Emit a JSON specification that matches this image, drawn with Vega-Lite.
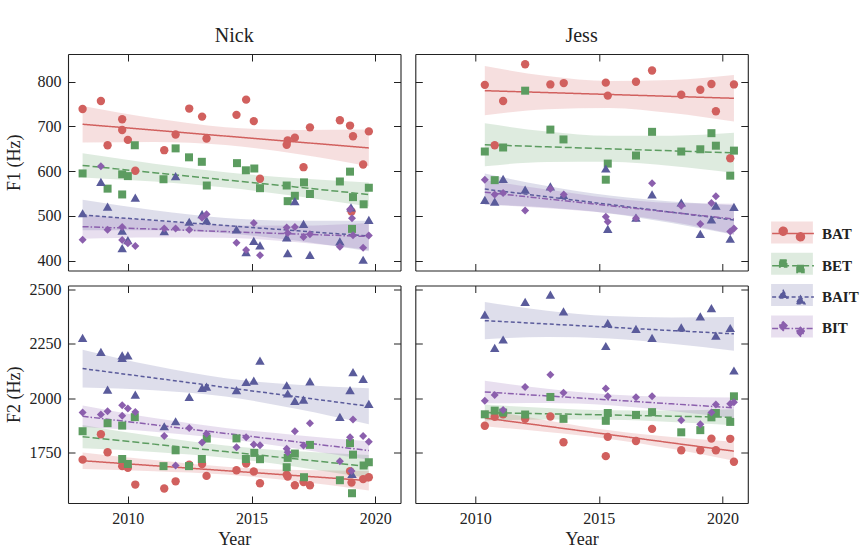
{
  "$schema": "https://vega.github.io/schema/vega-lite/v6.json",
  "padding": {"left": 5, "top": 25, "right": 5, "bottom": 5},
  "background": "white",
  "datasets": {
    "nf1": [
      {"vowel":"BAT","year":2008.17,"hz":739},{"vowel":"BAT","year":2008.91,"hz":757},{"vowel":"BAT","year":2009.18,"hz":658},{"vowel":"BAT","year":2009.77,"hz":716},{"vowel":"BAT","year":2009.77,"hz":692},{"vowel":"BAT","year":2010.0,"hz":670},{"vowel":"BAT","year":2010.3,"hz":601},{"vowel":"BAT","year":2011.47,"hz":647},{"vowel":"BAT","year":2011.93,"hz":682},{"vowel":"BAT","year":2012.48,"hz":740},{"vowel":"BAT","year":2013.0,"hz":722},{"vowel":"BAT","year":2013.18,"hz":673},{"vowel":"BAT","year":2014.39,"hz":726},{"vowel":"BAT","year":2014.78,"hz":760},{"vowel":"BAT","year":2015.09,"hz":712},{"vowel":"BAT","year":2015.34,"hz":583},{"vowel":"BAT","year":2016.42,"hz":659},{"vowel":"BAT","year":2016.46,"hz":669},{"vowel":"BAT","year":2016.75,"hz":675},{"vowel":"BAT","year":2017.1,"hz":609},{"vowel":"BAT","year":2017.36,"hz":698},{"vowel":"BAT","year":2018.57,"hz":714},{"vowel":"BAT","year":2018.98,"hz":702},{"vowel":"BAT","year":2019.04,"hz":510},{"vowel":"BAT","year":2019.1,"hz":678},{"vowel":"BAT","year":2019.51,"hz":615},{"vowel":"BAT","year":2019.74,"hz":689},
      {"vowel":"BET","year":2008.17,"hz":595},{"vowel":"BET","year":2009.18,"hz":561},{"vowel":"BET","year":2009.77,"hz":593},{"vowel":"BET","year":2009.77,"hz":548},{"vowel":"BET","year":2010.0,"hz":589},{"vowel":"BET","year":2010.28,"hz":658},{"vowel":"BET","year":2011.44,"hz":582},{"vowel":"BET","year":2011.93,"hz":651},{"vowel":"BET","year":2012.47,"hz":631},{"vowel":"BET","year":2012.99,"hz":621},{"vowel":"BET","year":2013.19,"hz":568},{"vowel":"BET","year":2014.41,"hz":618},{"vowel":"BET","year":2014.77,"hz":602},{"vowel":"BET","year":2015.11,"hz":606},{"vowel":"BET","year":2015.34,"hz":562},{"vowel":"BET","year":2016.42,"hz":568},{"vowel":"BET","year":2016.46,"hz":533},{"vowel":"BET","year":2016.75,"hz":545},{"vowel":"BET","year":2017.12,"hz":575},{"vowel":"BET","year":2017.36,"hz":549},{"vowel":"BET","year":2018.57,"hz":577},{"vowel":"BET","year":2018.98,"hz":599},{"vowel":"BET","year":2019.06,"hz":471},{"vowel":"BET","year":2019.1,"hz":542},{"vowel":"BET","year":2019.53,"hz":526},{"vowel":"BET","year":2019.74,"hz":563},
      {"vowel":"BAIT","year":2008.17,"hz":506},{"vowel":"BAIT","year":2008.91,"hz":576},{"vowel":"BAIT","year":2009.18,"hz":521},{"vowel":"BAIT","year":2009.77,"hz":467},{"vowel":"BAIT","year":2009.77,"hz":428},{"vowel":"BAIT","year":2010.0,"hz":446},{"vowel":"BAIT","year":2010.3,"hz":541},{"vowel":"BAIT","year":2011.47,"hz":466},{"vowel":"BAIT","year":2011.93,"hz":589},{"vowel":"BAIT","year":2012.48,"hz":487},{"vowel":"BAIT","year":2013.0,"hz":504},{"vowel":"BAIT","year":2013.18,"hz":490},{"vowel":"BAIT","year":2014.39,"hz":470},{"vowel":"BAIT","year":2014.78,"hz":419},{"vowel":"BAIT","year":2015.09,"hz":444},{"vowel":"BAIT","year":2015.34,"hz":434},{"vowel":"BAIT","year":2016.42,"hz":452},{"vowel":"BAIT","year":2016.46,"hz":417},{"vowel":"BAIT","year":2016.75,"hz":533},{"vowel":"BAIT","year":2017.1,"hz":482},{"vowel":"BAIT","year":2017.36,"hz":413},{"vowel":"BAIT","year":2018.57,"hz":443},{"vowel":"BAIT","year":2019.02,"hz":519},{"vowel":"BAIT","year":2019.51,"hz":402},{"vowel":"BAIT","year":2019.74,"hz":491},
      {"vowel":"BIT","year":2008.17,"hz":447},{"vowel":"BIT","year":2008.91,"hz":611},{"vowel":"BIT","year":2009.18,"hz":469},{"vowel":"BIT","year":2009.77,"hz":475},{"vowel":"BIT","year":2009.77,"hz":446},{"vowel":"BIT","year":2010.0,"hz":439},{"vowel":"BIT","year":2010.3,"hz":433},{"vowel":"BIT","year":2011.47,"hz":472},{"vowel":"BIT","year":2011.93,"hz":472},{"vowel":"BIT","year":2012.48,"hz":469},{"vowel":"BIT","year":2013.0,"hz":496},{"vowel":"BIT","year":2013.18,"hz":504},{"vowel":"BIT","year":2014.39,"hz":440},{"vowel":"BIT","year":2014.78,"hz":424},{"vowel":"BIT","year":2015.09,"hz":484},{"vowel":"BIT","year":2015.34,"hz":412},{"vowel":"BIT","year":2016.42,"hz":474},{"vowel":"BIT","year":2016.46,"hz":462},{"vowel":"BIT","year":2016.75,"hz":475},{"vowel":"BIT","year":2017.1,"hz":453},{"vowel":"BIT","year":2017.36,"hz":459},{"vowel":"BIT","year":2018.57,"hz":431},{"vowel":"BIT","year":2018.98,"hz":515},{"vowel":"BIT","year":2019.06,"hz":495},{"vowel":"BIT","year":2019.1,"hz":457},{"vowel":"BIT","year":2019.51,"hz":429},{"vowel":"BIT","year":2019.74,"hz":456}
    ],
    "jf1": [
      {"vowel":"BAT","year":2010.39,"hz":793},{"vowel":"BAT","year":2010.79,"hz":658},{"vowel":"BAT","year":2011.13,"hz":757},{"vowel":"BAT","year":2012.02,"hz":839},{"vowel":"BAT","year":2013.04,"hz":794},{"vowel":"BAT","year":2013.58,"hz":797},{"vowel":"BAT","year":2015.28,"hz":798},{"vowel":"BAT","year":2015.36,"hz":769},{"vowel":"BAT","year":2016.5,"hz":800},{"vowel":"BAT","year":2017.15,"hz":825},{"vowel":"BAT","year":2018.33,"hz":771},{"vowel":"BAT","year":2019.1,"hz":782},{"vowel":"BAT","year":2019.55,"hz":795},{"vowel":"BAT","year":2019.73,"hz":734},{"vowel":"BAT","year":2020.31,"hz":629},{"vowel":"BAT","year":2020.46,"hz":794},
      {"vowel":"BET","year":2010.39,"hz":644},{"vowel":"BET","year":2010.79,"hz":580},{"vowel":"BET","year":2011.13,"hz":653},{"vowel":"BET","year":2012.02,"hz":780},{"vowel":"BET","year":2013.04,"hz":693},{"vowel":"BET","year":2013.57,"hz":671},{"vowel":"BET","year":2015.28,"hz":581},{"vowel":"BET","year":2015.36,"hz":617},{"vowel":"BET","year":2016.5,"hz":635},{"vowel":"BET","year":2017.15,"hz":688},{"vowel":"BET","year":2018.33,"hz":644},{"vowel":"BET","year":2019.1,"hz":649},{"vowel":"BET","year":2019.55,"hz":685},{"vowel":"BET","year":2019.73,"hz":657},{"vowel":"BET","year":2020.31,"hz":590},{"vowel":"BET","year":2020.46,"hz":646},
      {"vowel":"BAIT","year":2010.39,"hz":536},{"vowel":"BAIT","year":2010.79,"hz":532},{"vowel":"BAIT","year":2011.13,"hz":583},{"vowel":"BAIT","year":2012.02,"hz":559},{"vowel":"BAIT","year":2013.04,"hz":566},{"vowel":"BAIT","year":2013.57,"hz":547},{"vowel":"BAIT","year":2015.28,"hz":606},{"vowel":"BAIT","year":2015.36,"hz":471},{"vowel":"BAIT","year":2016.5,"hz":496},{"vowel":"BAIT","year":2017.15,"hz":548},{"vowel":"BAIT","year":2018.33,"hz":530},{"vowel":"BAIT","year":2019.1,"hz":460},{"vowel":"BAIT","year":2019.55,"hz":492},{"vowel":"BAIT","year":2019.73,"hz":523},{"vowel":"BAIT","year":2020.31,"hz":449},{"vowel":"BAIT","year":2020.46,"hz":520},
      {"vowel":"BIT","year":2010.39,"hz":581},{"vowel":"BIT","year":2010.79,"hz":548},{"vowel":"BIT","year":2011.13,"hz":551},{"vowel":"BIT","year":2012.02,"hz":512},{"vowel":"BIT","year":2013.04,"hz":561},{"vowel":"BIT","year":2013.58,"hz":548},{"vowel":"BIT","year":2015.28,"hz":498},{"vowel":"BIT","year":2015.36,"hz":487},{"vowel":"BIT","year":2016.5,"hz":495},{"vowel":"BIT","year":2017.15,"hz":573},{"vowel":"BIT","year":2018.33,"hz":523},{"vowel":"BIT","year":2019.1,"hz":482},{"vowel":"BIT","year":2019.55,"hz":529},{"vowel":"BIT","year":2019.73,"hz":544},{"vowel":"BIT","year":2020.31,"hz":465},{"vowel":"BIT","year":2020.46,"hz":472}
    ],
    "nf2": [
      {"vowel":"BAT","year":2008.17,"hz":1716},{"vowel":"BAT","year":2008.91,"hz":1833},{"vowel":"BAT","year":2009.18,"hz":1750},{"vowel":"BAT","year":2009.77,"hz":1686},{"vowel":"BAT","year":2010.0,"hz":1678},{"vowel":"BAT","year":2010.3,"hz":1601},{"vowel":"BAT","year":2011.47,"hz":1583},{"vowel":"BAT","year":2011.93,"hz":1616},{"vowel":"BAT","year":2012.48,"hz":1693},{"vowel":"BAT","year":2013.0,"hz":1696},{"vowel":"BAT","year":2013.18,"hz":1641},{"vowel":"BAT","year":2014.39,"hz":1667},{"vowel":"BAT","year":2014.78,"hz":1698},{"vowel":"BAT","year":2015.09,"hz":1661},{"vowel":"BAT","year":2015.34,"hz":1607},{"vowel":"BAT","year":2016.42,"hz":1647},{"vowel":"BAT","year":2016.46,"hz":1638},{"vowel":"BAT","year":2016.75,"hz":1598},{"vowel":"BAT","year":2017.1,"hz":1613},{"vowel":"BAT","year":2017.36,"hz":1598},{"vowel":"BAT","year":2018.98,"hz":1663},{"vowel":"BAT","year":2019.04,"hz":1610},{"vowel":"BAT","year":2019.51,"hz":1626},{"vowel":"BAT","year":2019.74,"hz":1635},
      {"vowel":"BET","year":2008.17,"hz":1847},{"vowel":"BET","year":2009.18,"hz":1884},{"vowel":"BET","year":2009.77,"hz":1873},{"vowel":"BET","year":2009.77,"hz":1719},{"vowel":"BET","year":2010.0,"hz":1696},{"vowel":"BET","year":2010.28,"hz":1912},{"vowel":"BET","year":2011.44,"hz":1686},{"vowel":"BET","year":2011.93,"hz":1759},{"vowel":"BET","year":2012.47,"hz":1686},{"vowel":"BET","year":2012.99,"hz":1719},{"vowel":"BET","year":2013.19,"hz":1813},{"vowel":"BET","year":2014.39,"hz":1814},{"vowel":"BET","year":2014.77,"hz":1719},{"vowel":"BET","year":2015.11,"hz":1747},{"vowel":"BET","year":2015.34,"hz":1718},{"vowel":"BET","year":2016.42,"hz":1681},{"vowel":"BET","year":2016.46,"hz":1724},{"vowel":"BET","year":2016.75,"hz":1744},{"vowel":"BET","year":2017.12,"hz":1635},{"vowel":"BET","year":2017.36,"hz":1784},{"vowel":"BET","year":2018.57,"hz":1621},{"vowel":"BET","year":2018.98,"hz":1792},{"vowel":"BET","year":2019.06,"hz":1561},{"vowel":"BET","year":2019.1,"hz":1739},{"vowel":"BET","year":2019.53,"hz":1689},{"vowel":"BET","year":2019.74,"hz":1704},
      {"vowel":"BAIT","year":2008.17,"hz":2277},{"vowel":"BAIT","year":2008.91,"hz":2213},{"vowel":"BAIT","year":2009.18,"hz":2039},{"vowel":"BAIT","year":2009.77,"hz":2197},{"vowel":"BAIT","year":2009.77,"hz":2185},{"vowel":"BAIT","year":2010.0,"hz":2197},{"vowel":"BAIT","year":2010.3,"hz":2016},{"vowel":"BAIT","year":2011.47,"hz":1870},{"vowel":"BAIT","year":2011.93,"hz":1893},{"vowel":"BAIT","year":2012.48,"hz":2005},{"vowel":"BAIT","year":2013.0,"hz":2047},{"vowel":"BAIT","year":2013.18,"hz":2053},{"vowel":"BAIT","year":2014.39,"hz":2037},{"vowel":"BAIT","year":2014.78,"hz":2074},{"vowel":"BAIT","year":2015.09,"hz":2080},{"vowel":"BAIT","year":2015.34,"hz":2173},{"vowel":"BAIT","year":2016.42,"hz":2059},{"vowel":"BAIT","year":2016.46,"hz":2021},{"vowel":"BAIT","year":2016.75,"hz":1987},{"vowel":"BAIT","year":2017.1,"hz":1993},{"vowel":"BAIT","year":2017.36,"hz":2077},{"vowel":"BAIT","year":2018.57,"hz":1913},{"vowel":"BAIT","year":2018.98,"hz":2037},{"vowel":"BAIT","year":2019.06,"hz":1650},{"vowel":"BAIT","year":2019.1,"hz":2120},{"vowel":"BAIT","year":2019.51,"hz":2088},{"vowel":"BAIT","year":2019.74,"hz":1973},
      {"vowel":"BIT","year":2008.17,"hz":1933},{"vowel":"BIT","year":2008.91,"hz":1924},{"vowel":"BIT","year":2009.18,"hz":1939},{"vowel":"BIT","year":2009.77,"hz":1967},{"vowel":"BIT","year":2009.77,"hz":1918},{"vowel":"BIT","year":2010.0,"hz":1952},{"vowel":"BIT","year":2010.3,"hz":1936},{"vowel":"BIT","year":2011.47,"hz":1825},{"vowel":"BIT","year":2011.93,"hz":1689},{"vowel":"BIT","year":2012.48,"hz":1862},{"vowel":"BIT","year":2013.0,"hz":1795},{"vowel":"BIT","year":2013.18,"hz":1835},{"vowel":"BIT","year":2014.39,"hz":1773},{"vowel":"BIT","year":2014.78,"hz":1819},{"vowel":"BIT","year":2015.09,"hz":1786},{"vowel":"BIT","year":2015.34,"hz":1782},{"vowel":"BIT","year":2016.42,"hz":1766},{"vowel":"BIT","year":2016.46,"hz":1750},{"vowel":"BIT","year":2016.75,"hz":1847},{"vowel":"BIT","year":2017.1,"hz":1781},{"vowel":"BIT","year":2017.36,"hz":1884},{"vowel":"BIT","year":2018.57,"hz":1709},{"vowel":"BIT","year":2018.98,"hz":1819},{"vowel":"BIT","year":2019.04,"hz":1663},{"vowel":"BIT","year":2019.1,"hz":1901},{"vowel":"BIT","year":2019.51,"hz":1825},{"vowel":"BIT","year":2019.74,"hz":1798}
    ],
    "jf2": [
      {"vowel":"BAT","year":2010.39,"hz":1872},{"vowel":"BAT","year":2010.79,"hz":1913},{"vowel":"BAT","year":2011.13,"hz":1925},{"vowel":"BAT","year":2012.02,"hz":1904},{"vowel":"BAT","year":2013.04,"hz":1915},{"vowel":"BAT","year":2013.57,"hz":1796},{"vowel":"BAT","year":2015.28,"hz":1732},{"vowel":"BAT","year":2015.36,"hz":1821},{"vowel":"BAT","year":2016.5,"hz":1802},{"vowel":"BAT","year":2017.15,"hz":1858},{"vowel":"BAT","year":2018.33,"hz":1759},{"vowel":"BAT","year":2019.1,"hz":1759},{"vowel":"BAT","year":2019.55,"hz":1813},{"vowel":"BAT","year":2019.73,"hz":1759},{"vowel":"BAT","year":2020.31,"hz":1812},{"vowel":"BAT","year":2020.46,"hz":1706},
      {"vowel":"BET","year":2010.39,"hz":1925},{"vowel":"BET","year":2010.79,"hz":1942},{"vowel":"BET","year":2011.13,"hz":1933},{"vowel":"BET","year":2012.02,"hz":1924},{"vowel":"BET","year":2013.04,"hz":2005},{"vowel":"BET","year":2013.57,"hz":1904},{"vowel":"BET","year":2015.28,"hz":1895},{"vowel":"BET","year":2015.36,"hz":1931},{"vowel":"BET","year":2016.5,"hz":1922},{"vowel":"BET","year":2017.15,"hz":1935},{"vowel":"BET","year":2018.33,"hz":1842},{"vowel":"BET","year":2019.1,"hz":1852},{"vowel":"BET","year":2019.55,"hz":1911},{"vowel":"BET","year":2019.73,"hz":1931},{"vowel":"BET","year":2020.31,"hz":1890},{"vowel":"BET","year":2020.46,"hz":2008},
      {"vowel":"BAIT","year":2010.39,"hz":2385},{"vowel":"BAIT","year":2010.79,"hz":2231},{"vowel":"BAIT","year":2011.13,"hz":2270},{"vowel":"BAIT","year":2012.02,"hz":2443},{"vowel":"BAIT","year":2013.04,"hz":2477},{"vowel":"BAIT","year":2013.57,"hz":2400},{"vowel":"BAIT","year":2015.28,"hz":2240},{"vowel":"BAIT","year":2015.36,"hz":2345},{"vowel":"BAIT","year":2016.5,"hz":2319},{"vowel":"BAIT","year":2017.15,"hz":2277},{"vowel":"BAIT","year":2018.33,"hz":2326},{"vowel":"BAIT","year":2019.1,"hz":2377},{"vowel":"BAIT","year":2019.55,"hz":2415},{"vowel":"BAIT","year":2019.73,"hz":2288},{"vowel":"BAIT","year":2020.31,"hz":2323},{"vowel":"BAIT","year":2020.46,"hz":2127},
      {"vowel":"BIT","year":2010.39,"hz":1987},{"vowel":"BIT","year":2010.79,"hz":2014},{"vowel":"BIT","year":2011.13,"hz":1945},{"vowel":"BIT","year":2012.02,"hz":2051},{"vowel":"BIT","year":2013.04,"hz":2108},{"vowel":"BIT","year":2013.57,"hz":2024},{"vowel":"BIT","year":2015.28,"hz":2044},{"vowel":"BIT","year":2015.36,"hz":2008},{"vowel":"BIT","year":2016.5,"hz":2004},{"vowel":"BIT","year":2017.15,"hz":2008},{"vowel":"BIT","year":2018.33,"hz":1898},{"vowel":"BIT","year":2019.1,"hz":1879},{"vowel":"BIT","year":2019.55,"hz":1933},{"vowel":"BIT","year":2019.73,"hz":1970},{"vowel":"BIT","year":2020.31,"hz":1974},{"vowel":"BIT","year":2020.46,"hz":1981}
    ],
    "nf1fit": [
      {"vowel":"BAT","year":2008.17,"fit":705,"lo":664,"hi":746},{"vowel":"BAT","year":2011.06,"fit":691.75,"lo":665,"hi":718.5},{"vowel":"BAT","year":2013.95,"fit":678.5,"lo":658.5,"hi":698.5},{"vowel":"BAT","year":2016.85,"fit":665.25,"lo":638.5,"hi":692},{"vowel":"BAT","year":2019.74,"fit":652,"lo":611,"hi":693},
      {"vowel":"BET","year":2008.17,"fit":613,"lo":586,"hi":640},{"vowel":"BET","year":2011.06,"fit":596.75,"lo":576.75,"hi":616.75},{"vowel":"BET","year":2013.95,"fit":580.5,"lo":563.5,"hi":597.5},{"vowel":"BET","year":2016.85,"fit":564.25,"lo":544.25,"hi":584.25},{"vowel":"BET","year":2019.74,"fit":548,"lo":521,"hi":575},
      {"vowel":"BAIT","year":2008.17,"fit":502,"lo":468,"hi":536},{"vowel":"BAIT","year":2011.06,"fit":490.25,"lo":467.75,"hi":512.75},{"vowel":"BAIT","year":2013.95,"fit":478.5,"lo":461.5,"hi":495.5},{"vowel":"BAIT","year":2016.85,"fit":466.75,"lo":444.25,"hi":489.25},{"vowel":"BAIT","year":2019.74,"fit":455,"lo":421,"hi":489},
      {"vowel":"BIT","year":2008.17,"fit":476,"lo":449,"hi":503},{"vowel":"BIT","year":2011.06,"fit":470.5,"lo":452,"hi":489},{"vowel":"BIT","year":2013.95,"fit":465,"lo":451,"hi":479},{"vowel":"BIT","year":2016.85,"fit":459.5,"lo":441,"hi":478},{"vowel":"BIT","year":2019.74,"fit":454,"lo":424,"hi":484}
    ],
    "jf1fit": [
      {"vowel":"BAT","year":2010.39,"fit":780,"lo":725,"hi":835},{"vowel":"BAT","year":2012.91,"fit":775.75,"lo":738.75,"hi":812.75},{"vowel":"BAT","year":2015.43,"fit":771.5,"lo":741.5,"hi":801.5},{"vowel":"BAT","year":2017.94,"fit":767.25,"lo":730,"hi":804},{"vowel":"BAT","year":2020.46,"fit":763,"lo":711,"hi":815},
      {"vowel":"BET","year":2010.39,"fit":659,"lo":611,"hi":707},{"vowel":"BET","year":2012.91,"fit":654.5,"lo":620.5,"hi":688.5},{"vowel":"BET","year":2015.43,"fit":650,"lo":621,"hi":679},{"vowel":"BET","year":2017.94,"fit":645.5,"lo":611.5,"hi":679.5},{"vowel":"BET","year":2020.46,"fit":641,"lo":596,"hi":686},
      {"vowel":"BAIT","year":2010.39,"fit":560,"lo":525,"hi":595},{"vowel":"BAIT","year":2012.91,"fit":542.75,"lo":518.75,"hi":566.75},{"vowel":"BAIT","year":2015.43,"fit":525.5,"lo":505.5,"hi":545.5},{"vowel":"BAIT","year":2017.94,"fit":508.25,"lo":484.25,"hi":532.25},{"vowel":"BAIT","year":2020.46,"fit":491,"lo":458,"hi":524},
      {"vowel":"BIT","year":2010.39,"fit":553,"lo":526,"hi":580},{"vowel":"BIT","year":2012.91,"fit":538,"lo":517,"hi":559},{"vowel":"BIT","year":2015.43,"fit":523,"lo":506,"hi":540},{"vowel":"BIT","year":2017.94,"fit":508,"lo":487,"hi":529},{"vowel":"BIT","year":2020.46,"fit":493,"lo":459,"hi":527}
    ],
    "nf2fit": [
      {"vowel":"BAT","year":2008.17,"fit":1711,"lo":1673,"hi":1749},{"vowel":"BAT","year":2011.06,"fit":1688,"lo":1662,"hi":1714},{"vowel":"BAT","year":2013.95,"fit":1665,"lo":1647,"hi":1683},{"vowel":"BAT","year":2016.85,"fit":1642,"lo":1616,"hi":1668},{"vowel":"BAT","year":2019.74,"fit":1619,"lo":1574,"hi":1664},
      {"vowel":"BET","year":2008.17,"fit":1822,"lo":1768,"hi":1876},{"vowel":"BET","year":2011.06,"fit":1787.5,"lo":1751.5,"hi":1823.5},{"vowel":"BET","year":2013.95,"fit":1753,"lo":1725,"hi":1781},{"vowel":"BET","year":2016.85,"fit":1718.5,"lo":1682.5,"hi":1754.5},{"vowel":"BET","year":2019.74,"fit":1684,"lo":1631,"hi":1737},
      {"vowel":"BAIT","year":2008.17,"fit":2136,"lo":2049,"hi":2223},{"vowel":"BAIT","year":2011.06,"fit":2092.5,"lo":2036.5,"hi":2148.5},{"vowel":"BAIT","year":2013.95,"fit":2049,"lo":2007,"hi":2091},{"vowel":"BAIT","year":2016.85,"fit":2005.5,"lo":1949.5,"hi":2061.5},{"vowel":"BAIT","year":2019.74,"fit":1962,"lo":1879,"hi":2045},
      {"vowel":"BIT","year":2008.17,"fit":1916,"lo":1866,"hi":1966},{"vowel":"BIT","year":2011.06,"fit":1876.5,"lo":1845,"hi":1908},{"vowel":"BIT","year":2013.95,"fit":1837,"lo":1812,"hi":1862},{"vowel":"BIT","year":2016.85,"fit":1797.5,"lo":1766,"hi":1829},{"vowel":"BIT","year":2019.74,"fit":1758,"lo":1715,"hi":1801}
    ],
    "jf2fit": [
      {"vowel":"BAT","year":2010.39,"fit":1908,"lo":1870,"hi":1946},{"vowel":"BAT","year":2012.91,"fit":1869.75,"lo":1843,"hi":1897},{"vowel":"BAT","year":2015.43,"fit":1831.5,"lo":1811.5,"hi":1851.5},{"vowel":"BAT","year":2017.94,"fit":1793.25,"lo":1766,"hi":1820},{"vowel":"BAT","year":2020.46,"fit":1755,"lo":1711,"hi":1799},
      {"vowel":"BET","year":2010.39,"fit":1933,"lo":1896,"hi":1970},{"vowel":"BET","year":2012.91,"fit":1927.5,"lo":1901,"hi":1954},{"vowel":"BET","year":2015.43,"fit":1922,"lo":1900,"hi":1944},{"vowel":"BET","year":2017.94,"fit":1916.5,"lo":1890,"hi":1943},{"vowel":"BET","year":2020.46,"fit":1911,"lo":1874,"hi":1948},
      {"vowel":"BAIT","year":2010.39,"fit":2357,"lo":2271,"hi":2443},{"vowel":"BAIT","year":2012.91,"fit":2341.75,"lo":2281,"hi":2403},{"vowel":"BAIT","year":2015.43,"fit":2326.5,"lo":2274.5,"hi":2378.5},{"vowel":"BAIT","year":2017.94,"fit":2311.25,"lo":2250,"hi":2372},{"vowel":"BAIT","year":2020.46,"fit":2296,"lo":2218,"hi":2374},
      {"vowel":"BIT","year":2010.39,"fit":2028,"lo":1976,"hi":2080},{"vowel":"BIT","year":2012.91,"fit":2009.75,"lo":1976.75,"hi":2042.75},{"vowel":"BIT","year":2015.43,"fit":1991.5,"lo":1966.5,"hi":2016.5},{"vowel":"BIT","year":2017.94,"fit":1973.25,"lo":1940,"hi":2006},{"vowel":"BIT","year":2020.46,"fit":1955,"lo":1907,"hi":2003}
    ]
  },
  "columns": 2,
  "spacing": {"row": 14.5, "column": 14.3},
  "bounds": "flush",
  "concat": [
    {
      "width": 332.5, "height": 216.5,
      "title": {"text": "Nick"},
      "resolve": {"axis": {"x": "independent", "y": "independent"}},
      "layer": [
        {"data": {"name": "nf1fit"}, "mark": {"type": "area", "interpolate": "monotone", "fillOpacity": 0.2},
         "encoding": {
           "x": {"field": "year", "type": "quantitative", "scale": {"domain": [2007.58, 2021.02], "nice": false, "zero": false}, "axis": {"orient": "bottom", "values": [2010, 2015, 2020], "labels": false, "title": null}},
           "y": {"field": "lo", "type": "quantitative", "scale": {"domain": [378, 862], "nice": false, "zero": false}, "axis": {"orient": "left", "values": [400, 500, 600, 700, 800], "title": "F1 (Hz)", "titleX": -53.5, "titleBaseline": "middle"}},
           "y2": {"field": "hi"},
           "fill": {"field": "vowel", "type": "nominal", "scale": {"domain": ["BAT", "BET", "BIT", "BAIT"], "range": ["#d1605e", "#5c9c60", "#8b5fad", "#5a5b9b"]},
             "legend": {"title": null, "values": ["BAT", "BET", "BAIT", "BIT"], "labelExpr": "''", "symbolType": "M-1.9,-1H1.9V1H-1.9Z", "symbolStrokeWidth": 0, "symbolOpacity": 0.2}}
         }},
        {"data": {"name": "nf1fit"}, "mark": {"type": "line", "strokeWidth": 1.5},
         "encoding": {
           "x": {"field": "year", "type": "quantitative", "scale": {"domain": [2007.58, 2021.02], "nice": false, "zero": false}, "axis": {"orient": "top", "values": [2010, 2015, 2020], "labels": false, "title": null}},
           "y": {"field": "fit", "type": "quantitative", "scale": {"domain": [378, 862], "nice": false, "zero": false}, "axis": {"orient": "right", "values": [400, 500, 600, 700, 800], "labels": false, "title": null}},
           "color": {"field": "vowel", "type": "nominal", "scale": {"domain": ["BAT", "BET", "BAIT", "BIT"], "range": ["#d1605e", "#5c9c60", "#5a5b9b", "#8b5fad"]}},
           "strokeDash": {"field": "vowel", "type": "nominal", "scale": {"domain": ["BAT", "BET", "BAIT", "BIT"], "range": [[1, 0], [7, 3], [4, 2.5], [6, 2, 1.5, 2]]}}
         }},
        {"data": {"name": "nf1"}, "transform": [{"filter": "datum.vowel === 'BAT'"}], "mark": {"type": "point", "filled": true, "opacity": 1, "shape": "circle", "size": 70},
         "encoding": {"x": {"field": "year", "type": "quantitative", "axis": null}, "y": {"field": "hz", "type": "quantitative", "axis": null}, "color": {"field": "vowel", "type": "nominal"}}},
        {"data": {"name": "nf1"}, "transform": [{"filter": "datum.vowel === 'BET'"}], "mark": {"type": "point", "filled": true, "opacity": 1, "shape": "square", "size": 64},
         "encoding": {"x": {"field": "year", "type": "quantitative", "axis": null}, "y": {"field": "hz", "type": "quantitative", "axis": null}, "color": {"field": "vowel", "type": "nominal"}}},
        {"data": {"name": "nf1"}, "transform": [{"filter": "datum.vowel === 'BAIT'"}], "mark": {"type": "point", "filled": true, "opacity": 1, "shape": "triangle-up", "size": 90},
         "encoding": {"x": {"field": "year", "type": "quantitative", "axis": null}, "y": {"field": "hz", "type": "quantitative", "axis": null}, "color": {"field": "vowel", "type": "nominal"}}},
        {"data": {"name": "nf1"}, "transform": [{"filter": "datum.vowel === 'BIT'"}], "mark": {"type": "point", "filled": true, "opacity": 1, "shape": "diamond", "size": 64},
         "encoding": {"x": {"field": "year", "type": "quantitative", "axis": null}, "y": {"field": "hz", "type": "quantitative", "axis": null}, "color": {"field": "vowel", "type": "nominal"}}},
        {"data": {"values": []}, "mark": {"type": "point", "filled": true, "opacity": 1},
         "encoding": {
           "x": {"field": "year", "type": "quantitative", "axis": null},
           "y": {"field": "hz", "type": "quantitative", "axis": null},
           "color": {"field": "vowel", "type": "nominal", "scale": {"domain": ["BAT", "BET", "BAIT", "BIT"], "range": ["#d1605e", "#5c9c60", "#5a5b9b", "#8b5fad"]}, "legend": {"title": null, "symbolOpacity": 1, "symbolStrokeWidth": 1.5}},
           "stroke": {"field": "vowel", "type": "nominal", "scale": {"domain": ["BAT", "BET", "BAIT", "BIT"], "range": ["#d1605e", "#5c9c60", "#5a5b9b", "#8b5fad"]}},
           "shape": {"field": "vowel", "type": "nominal", "scale": {"domain": ["BAT", "BET", "BAIT", "BIT"], "range": [
             "M-1.9,0H1.9M-1.25,-0.21a0.36,0.36 0 1,0 0.72,0a0.36,0.36 0 1,0 -0.72,0M0.32,0.3a0.36,0.36 0 1,0 0.72,0a0.36,0.36 0 1,0 -0.72,0",
             "M-1.9,0H1.9M-1.21,-0.53h0.64v0.64h-0.64zM0.36,-0.02h0.64v0.64h-0.64z",
             "M-1.9,0H1.9M-0.89,-0.61L-0.49,0.09L-1.29,0.09ZM0.68,-0.1L1.08,0.6L0.28,0.6Z",
             "M-1.9,0H1.9M-0.89,-0.61L-0.49,-0.21L-0.89,0.19L-1.29,-0.21ZM0.68,-0.1L1.08,0.3L0.68,0.7L0.28,0.3Z"]}},
           "strokeDash": {"field": "vowel", "type": "nominal", "scale": {"domain": ["BAT", "BET", "BAIT", "BIT"], "range": [[1, 0], [7, 3], [4, 2.5], [6, 2, 1.5, 2]]}}
         }}
      ]
    },
    {
      "width": 332.5, "height": 216.5,
      "title": {"text": "Jess"},
      "resolve": {"axis": {"x": "independent", "y": "independent"}},
      "layer": [
        {"data": {"name": "jf1fit"}, "mark": {"type": "area", "interpolate": "monotone", "fillOpacity": 0.2},
         "encoding": {
           "x": {"field": "year", "type": "quantitative", "scale": {"domain": [2007.58, 2021.02], "nice": false, "zero": false}, "axis": {"orient": "bottom", "values": [2010, 2015, 2020], "labels": false, "title": null}},
           "y": {"field": "lo", "type": "quantitative", "scale": {"domain": [378, 862], "nice": false, "zero": false}, "axis": {"orient": "left", "values": [400, 500, 600, 700, 800], "labels": false, "title": null}},
           "y2": {"field": "hi"},
           "fill": {"field": "vowel", "type": "nominal", "scale": {"domain": ["BAT", "BET", "BIT", "BAIT"], "range": ["#d1605e", "#5c9c60", "#8b5fad", "#5a5b9b"]}}
         }},
        {"data": {"name": "jf1fit"}, "mark": {"type": "line", "strokeWidth": 1.5},
         "encoding": {
           "x": {"field": "year", "type": "quantitative", "scale": {"domain": [2007.58, 2021.02], "nice": false, "zero": false}, "axis": {"orient": "top", "values": [2010, 2015, 2020], "labels": false, "title": null}},
           "y": {"field": "fit", "type": "quantitative", "scale": {"domain": [378, 862], "nice": false, "zero": false}, "axis": {"orient": "right", "values": [400, 500, 600, 700, 800], "labels": false, "title": null}},
           "color": {"field": "vowel", "type": "nominal", "scale": {"domain": ["BAT", "BET", "BAIT", "BIT"], "range": ["#d1605e", "#5c9c60", "#5a5b9b", "#8b5fad"]}},
           "strokeDash": {"field": "vowel", "type": "nominal", "scale": {"domain": ["BAT", "BET", "BAIT", "BIT"], "range": [[1, 0], [7, 3], [4, 2.5], [6, 2, 1.5, 2]]}}
         }},
        {"data": {"name": "jf1"}, "transform": [{"filter": "datum.vowel === 'BAT'"}], "mark": {"type": "point", "filled": true, "opacity": 1, "shape": "circle", "size": 70},
         "encoding": {"x": {"field": "year", "type": "quantitative", "axis": null}, "y": {"field": "hz", "type": "quantitative", "axis": null}, "color": {"field": "vowel", "type": "nominal"}}},
        {"data": {"name": "jf1"}, "transform": [{"filter": "datum.vowel === 'BET'"}], "mark": {"type": "point", "filled": true, "opacity": 1, "shape": "square", "size": 64},
         "encoding": {"x": {"field": "year", "type": "quantitative", "axis": null}, "y": {"field": "hz", "type": "quantitative", "axis": null}, "color": {"field": "vowel", "type": "nominal"}}},
        {"data": {"name": "jf1"}, "transform": [{"filter": "datum.vowel === 'BAIT'"}], "mark": {"type": "point", "filled": true, "opacity": 1, "shape": "triangle-up", "size": 90},
         "encoding": {"x": {"field": "year", "type": "quantitative", "axis": null}, "y": {"field": "hz", "type": "quantitative", "axis": null}, "color": {"field": "vowel", "type": "nominal"}}},
        {"data": {"name": "jf1"}, "transform": [{"filter": "datum.vowel === 'BIT'"}], "mark": {"type": "point", "filled": true, "opacity": 1, "shape": "diamond", "size": 64},
         "encoding": {"x": {"field": "year", "type": "quantitative", "axis": null}, "y": {"field": "hz", "type": "quantitative", "axis": null}, "color": {"field": "vowel", "type": "nominal"}}}
      ]
    },
    {
      "width": 332.5, "height": 217.5,
      "resolve": {"axis": {"x": "independent", "y": "independent"}},
      "layer": [
        {"data": {"name": "nf2fit"}, "mark": {"type": "area", "interpolate": "monotone", "fillOpacity": 0.2},
         "encoding": {
           "x": {"field": "year", "type": "quantitative", "scale": {"domain": [2007.58, 2021.02], "nice": false, "zero": false}, "axis": {"orient": "bottom", "values": [2010, 2015, 2020], "format": "d", "title": "Year"}},
           "y": {"field": "lo", "type": "quantitative", "scale": {"domain": [1516, 2519], "nice": false, "zero": false}, "axis": {"orient": "left", "values": [1750, 2000, 2250, 2500], "format": "d", "title": "F2 (Hz)", "titleX": -53.5, "titleBaseline": "middle"}},
           "y2": {"field": "hi"},
           "fill": {"field": "vowel", "type": "nominal", "scale": {"domain": ["BAT", "BET", "BIT", "BAIT"], "range": ["#d1605e", "#5c9c60", "#8b5fad", "#5a5b9b"]}}
         }},
        {"data": {"name": "nf2fit"}, "mark": {"type": "line", "strokeWidth": 1.5},
         "encoding": {
           "x": {"field": "year", "type": "quantitative", "scale": {"domain": [2007.58, 2021.02], "nice": false, "zero": false}, "axis": {"orient": "top", "values": [2010, 2015, 2020], "labels": false, "title": null}},
           "y": {"field": "fit", "type": "quantitative", "scale": {"domain": [1516, 2519], "nice": false, "zero": false}, "axis": {"orient": "right", "values": [1750, 2000, 2250, 2500], "labels": false, "title": null}},
           "color": {"field": "vowel", "type": "nominal", "scale": {"domain": ["BAT", "BET", "BAIT", "BIT"], "range": ["#d1605e", "#5c9c60", "#5a5b9b", "#8b5fad"]}},
           "strokeDash": {"field": "vowel", "type": "nominal", "scale": {"domain": ["BAT", "BET", "BAIT", "BIT"], "range": [[1, 0], [7, 3], [4, 2.5], [6, 2, 1.5, 2]]}}
         }},
        {"data": {"name": "nf2"}, "transform": [{"filter": "datum.vowel === 'BAT'"}], "mark": {"type": "point", "filled": true, "opacity": 1, "shape": "circle", "size": 70},
         "encoding": {"x": {"field": "year", "type": "quantitative", "axis": null}, "y": {"field": "hz", "type": "quantitative", "axis": null}, "color": {"field": "vowel", "type": "nominal"}}},
        {"data": {"name": "nf2"}, "transform": [{"filter": "datum.vowel === 'BET'"}], "mark": {"type": "point", "filled": true, "opacity": 1, "shape": "square", "size": 64},
         "encoding": {"x": {"field": "year", "type": "quantitative", "axis": null}, "y": {"field": "hz", "type": "quantitative", "axis": null}, "color": {"field": "vowel", "type": "nominal"}}},
        {"data": {"name": "nf2"}, "transform": [{"filter": "datum.vowel === 'BAIT'"}], "mark": {"type": "point", "filled": true, "opacity": 1, "shape": "triangle-up", "size": 90},
         "encoding": {"x": {"field": "year", "type": "quantitative", "axis": null}, "y": {"field": "hz", "type": "quantitative", "axis": null}, "color": {"field": "vowel", "type": "nominal"}}},
        {"data": {"name": "nf2"}, "transform": [{"filter": "datum.vowel === 'BIT'"}], "mark": {"type": "point", "filled": true, "opacity": 1, "shape": "diamond", "size": 64},
         "encoding": {"x": {"field": "year", "type": "quantitative", "axis": null}, "y": {"field": "hz", "type": "quantitative", "axis": null}, "color": {"field": "vowel", "type": "nominal"}}}
      ]
    },
    {
      "width": 332.5, "height": 217.5,
      "resolve": {"axis": {"x": "independent", "y": "independent"}},
      "layer": [
        {"data": {"name": "jf2fit"}, "mark": {"type": "area", "interpolate": "monotone", "fillOpacity": 0.2},
         "encoding": {
           "x": {"field": "year", "type": "quantitative", "scale": {"domain": [2007.58, 2021.02], "nice": false, "zero": false}, "axis": {"orient": "bottom", "values": [2010, 2015, 2020], "format": "d", "title": "Year"}},
           "y": {"field": "lo", "type": "quantitative", "scale": {"domain": [1516, 2519], "nice": false, "zero": false}, "axis": {"orient": "left", "values": [1750, 2000, 2250, 2500], "labels": false, "title": null}},
           "y2": {"field": "hi"},
           "fill": {"field": "vowel", "type": "nominal", "scale": {"domain": ["BAT", "BET", "BIT", "BAIT"], "range": ["#d1605e", "#5c9c60", "#8b5fad", "#5a5b9b"]}}
         }},
        {"data": {"name": "jf2fit"}, "mark": {"type": "line", "strokeWidth": 1.5},
         "encoding": {
           "x": {"field": "year", "type": "quantitative", "scale": {"domain": [2007.58, 2021.02], "nice": false, "zero": false}, "axis": {"orient": "top", "values": [2010, 2015, 2020], "labels": false, "title": null}},
           "y": {"field": "fit", "type": "quantitative", "scale": {"domain": [1516, 2519], "nice": false, "zero": false}, "axis": {"orient": "right", "values": [1750, 2000, 2250, 2500], "labels": false, "title": null}},
           "color": {"field": "vowel", "type": "nominal", "scale": {"domain": ["BAT", "BET", "BAIT", "BIT"], "range": ["#d1605e", "#5c9c60", "#5a5b9b", "#8b5fad"]}},
           "strokeDash": {"field": "vowel", "type": "nominal", "scale": {"domain": ["BAT", "BET", "BAIT", "BIT"], "range": [[1, 0], [7, 3], [4, 2.5], [6, 2, 1.5, 2]]}}
         }},
        {"data": {"name": "jf2"}, "transform": [{"filter": "datum.vowel === 'BAT'"}], "mark": {"type": "point", "filled": true, "opacity": 1, "shape": "circle", "size": 70},
         "encoding": {"x": {"field": "year", "type": "quantitative", "axis": null}, "y": {"field": "hz", "type": "quantitative", "axis": null}, "color": {"field": "vowel", "type": "nominal"}}},
        {"data": {"name": "jf2"}, "transform": [{"filter": "datum.vowel === 'BET'"}], "mark": {"type": "point", "filled": true, "opacity": 1, "shape": "square", "size": 64},
         "encoding": {"x": {"field": "year", "type": "quantitative", "axis": null}, "y": {"field": "hz", "type": "quantitative", "axis": null}, "color": {"field": "vowel", "type": "nominal"}}},
        {"data": {"name": "jf2"}, "transform": [{"filter": "datum.vowel === 'BAIT'"}], "mark": {"type": "point", "filled": true, "opacity": 1, "shape": "triangle-up", "size": 90},
         "encoding": {"x": {"field": "year", "type": "quantitative", "axis": null}, "y": {"field": "hz", "type": "quantitative", "axis": null}, "color": {"field": "vowel", "type": "nominal"}}},
        {"data": {"name": "jf2"}, "transform": [{"filter": "datum.vowel === 'BIT'"}], "mark": {"type": "point", "filled": true, "opacity": 1, "shape": "diamond", "size": 64},
         "encoding": {"x": {"field": "year", "type": "quantitative", "axis": null}, "y": {"field": "hz", "type": "quantitative", "axis": null}, "color": {"field": "vowel", "type": "nominal"}}}
      ]
    }
  ],
  "config": {
    "font": "Liberation Serif",
    "view": {"stroke": null},
    "axis": {"grid": false, "domainColor": "#222222", "domainWidth": 1.1, "tickColor": "#222222", "tickWidth": 1, "tickSize": -7, "labelPadding": 14, "labelColor": "#222222", "labelFont": "Liberation Serif", "labelFontSize": 16, "titleFont": "Liberation Serif", "titleFontSize": 18, "titleFontWeight": "normal", "titleColor": "#222222"},
    "title": {"font": "Liberation Serif", "fontSize": 20, "fontWeight": "normal", "color": "#222222", "offset": 8, "anchor": "middle"},
    "legend": {"orient": "none", "legendX": 703, "legendY": 167.5, "padding": 0, "symbolSize": 484, "symbolOffset": 10, "labelOffset": 17, "rowPadding": 9.3, "labelFont": "Liberation Serif", "labelFontSize": 15, "labelFontWeight": "bold", "labelColor": "#222222"}
  }
}
